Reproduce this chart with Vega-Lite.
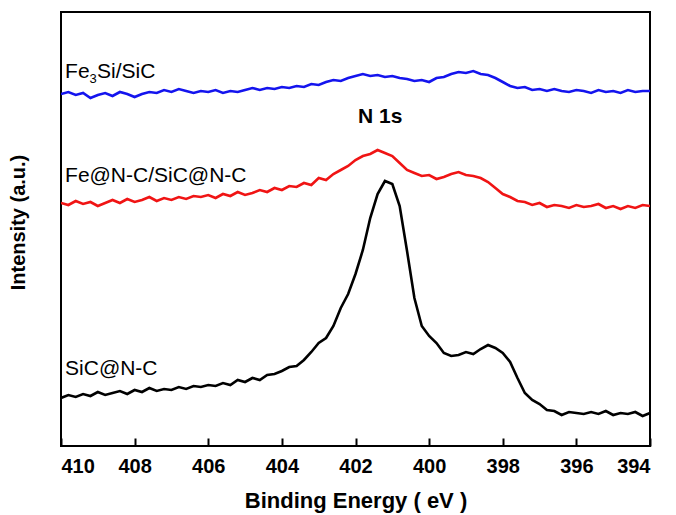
{
"$schema":"https://vega.github.io/schema/vega-lite/v6.json",
"width":589,"height":434,
"autosize":{"type":"none"},
"padding":{"left":61,"top":12,"right":26,"bottom":69},
"background":"white",
"config":{"view":{"stroke":"black","strokeWidth":2},"font":"Liberation Sans"},
"datasets":{
"black":[[410.0,48],[409.8,51],[409.6,49],[409.4,52],[409.2,50],[409.0,54],[408.8,51],[408.6,53],[408.4,55],[408.2,52],[408.0,56],[407.8,54],[407.6,58],[407.4,55],[407.2,57],[407.0,56],[406.8,59],[406.6,57],[406.4,60],[406.2,59],[406.0,61],[405.8,60],[405.6,63],[405.4,61],[405.2,66],[405.0,64],[404.8,68],[404.6,66],[404.4,71],[404.2,72],[404.0,75],[403.8,79],[403.6,80],[403.4,86],[403.2,94],[403.0,103],[402.8,108],[402.6,120],[402.4,138],[402.2,152],[402.0,172],[401.8,196],[401.6,228],[401.4,252],[401.2,265],[401.0,262],[400.8,240],[400.6,195],[400.4,148],[400.2,120],[400.0,110],[399.8,103],[399.6,93],[399.4,90],[399.2,91],[399.0,94],[398.8,92],[398.6,97],[398.4,101],[398.2,98],[398.0,93],[397.8,84],[397.6,68],[397.4,53],[397.2,46],[397.0,42],[396.8,36],[396.6,35],[396.4,31],[396.2,34],[396.0,33],[395.8,32],[395.6,34],[395.4,32],[395.2,35],[395.0,31],[394.8,33],[394.6,32],[394.4,34],[394.2,30],[394.0,33]],
"red":[[410.0,243],[409.8,241],[409.6,245],[409.4,242],[409.2,244],[409.0,240],[408.8,243],[408.6,246],[408.4,243],[408.2,247],[408.0,244],[407.8,246],[407.6,249],[407.4,245],[407.2,248],[407.0,246],[406.8,249],[406.6,247],[406.4,250],[406.2,249],[406.0,251],[405.8,248],[405.6,252],[405.4,250],[405.2,254],[405.0,251],[404.8,253],[404.6,256],[404.4,254],[404.2,258],[404.0,256],[403.8,260],[403.6,259],[403.4,263],[403.2,261],[403.0,268],[402.8,266],[402.6,272],[402.4,276],[402.2,280],[402.0,286],[401.8,290],[401.6,292],[401.4,296],[401.2,293],[401.0,290],[400.8,283],[400.6,276],[400.4,273],[400.2,270],[400.0,271],[399.8,267],[399.6,269],[399.4,272],[399.2,274],[399.0,271],[398.8,270],[398.6,268],[398.4,264],[398.2,258],[398.0,252],[397.8,249],[397.6,245],[397.4,244],[397.2,241],[397.0,243],[396.8,239],[396.6,241],[396.4,240],[396.2,238],[396.0,241],[395.8,239],[395.6,240],[395.4,242],[395.2,238],[395.0,240],[394.8,237],[394.6,240],[394.4,238],[394.2,241],[394.0,240]],
"blue":[[410.0,352],[409.8,354],[409.6,351],[409.4,353],[409.2,348],[409.0,351],[408.8,353],[408.6,350],[408.4,354],[408.2,352],[408.0,349],[407.8,352],[407.6,354],[407.4,353],[407.2,356],[407.0,354],[406.8,357],[406.6,355],[406.4,353],[406.2,355],[406.0,354],[405.8,356],[405.6,353],[405.4,355],[405.2,354],[405.0,356],[404.8,358],[404.6,356],[404.4,358],[404.2,357],[404.0,359],[403.8,358],[403.6,360],[403.4,359],[403.2,362],[403.0,361],[402.8,364],[402.6,366],[402.4,365],[402.2,368],[402.0,370],[401.8,372],[401.6,370],[401.4,371],[401.2,369],[401.0,370],[400.8,368],[400.6,367],[400.4,365],[400.2,366],[400.0,364],[399.8,368],[399.6,369],[399.4,372],[399.2,374],[399.0,373],[398.8,375],[398.6,372],[398.4,371],[398.2,368],[398.0,364],[397.8,360],[397.6,358],[397.4,359],[397.2,356],[397.0,357],[396.8,355],[396.6,357],[396.4,355],[396.2,354],[396.0,356],[395.8,355],[395.6,353],[395.4,356],[395.2,354],[395.0,355],[394.8,353],[394.6,356],[394.4,354],[394.2,355],[394.0,355]]
},
"data":{"values":[]},
"layer":[
{"data":{"name":"black"},"transform":[{"calculate":"datum[0]","as":"e"},{"calculate":"datum[1]","as":"i"}],
 "mark":{"type":"line","color":"black","strokeWidth":2.6,"clip":true},
 "encoding":{"x":{"field":"e","type":"quantitative","scale":{"domain":[394,410],"reverse":true,"nice":false},
   "axis":{"title":"Binding Energy ( eV )","values":[394,395,396,397,398,399,400,401,402,403,404,405,406,407,408,409,410],
     "labelExpr":"datum.value % 2 === 0 ? datum.label : ''","domain":false,"tickColor":"black","tickWidth":2,
     "tickSize":{"condition":{"test":"datum.value % 2 === 0","value":-8},"value":-5},
     "labelFont":"Liberation Sans","labelFontWeight":"bold","labelFontSize":20,"labelColor":"black","labelPadding":18,
     "titleFont":"Liberation Sans","titleFontWeight":"bold","titleFontSize":22,"titleColor":"black","titlePadding":14,"grid":false}},
  "y":{"field":"i","type":"quantitative","scale":{"domain":[0,434],"nice":false},
   "axis":{"title":"Intensity (a.u.)","labels":false,"ticks":false,"domain":false,"grid":false,"titleY":210,
     "titleFont":"Liberation Sans","titleFontWeight":"bold","titleFontSize":20,"titleColor":"black","titlePadding":33}}}},
{"data":{"name":"red"},"transform":[{"calculate":"datum[0]","as":"e"},{"calculate":"datum[1]","as":"i"}],
 "mark":{"type":"line","color":"#f01414","strokeWidth":2.6,"clip":true},
 "encoding":{"x":{"field":"e","type":"quantitative"},"y":{"field":"i","type":"quantitative"}}},
{"data":{"name":"blue"},"transform":[{"calculate":"datum[0]","as":"e"},{"calculate":"datum[1]","as":"i"}],
 "mark":{"type":"line","color":"#1414ee","strokeWidth":2.6,"clip":true},
 "encoding":{"x":{"field":"e","type":"quantitative"},"y":{"field":"i","type":"quantitative"}}},
{"data":{"values":[{"e":409.89,"i":264,"t":"Fe@N-C/SiC@N-C"},{"e":409.89,"i":71,"t":"SiC@N-C"}]},
 "mark":{"type":"text","align":"left","baseline":"alphabetic","font":"Liberation Sans","fontSize":21,"color":"black"},
 "encoding":{"x":{"field":"e","type":"quantitative"},"y":{"field":"i","type":"quantitative"},"text":{"field":"t"}}},
{"data":{"values":[{"e":409.89,"i":368,"a":"Fe","b":"3","c":"Si/SiC"}]},
 "layer":[
  {"mark":{"type":"text","align":"left","baseline":"alphabetic","font":"Liberation Sans","fontSize":21,"color":"black"},
   "encoding":{"x":{"field":"e","type":"quantitative"},"y":{"field":"i","type":"quantitative"},"text":{"field":"a"}}},
  {"mark":{"type":"text","align":"left","baseline":"alphabetic","font":"Liberation Sans","fontSize":13,"color":"black","dx":24.5,"dy":5},
   "encoding":{"x":{"field":"e","type":"quantitative"},"y":{"field":"i","type":"quantitative"},"text":{"field":"b"}}},
  {"mark":{"type":"text","align":"left","baseline":"alphabetic","font":"Liberation Sans","fontSize":21,"color":"black","dx":32},
   "encoding":{"x":{"field":"e","type":"quantitative"},"y":{"field":"i","type":"quantitative"},"text":{"field":"c"}}}
 ]},
{"data":{"values":[{"e":401.33,"i":323,"t":"N 1s"}]},
 "mark":{"type":"text","align":"center","baseline":"alphabetic","font":"Liberation Sans","fontSize":21,"fontWeight":"bold","color":"black"},
 "encoding":{"x":{"field":"e","type":"quantitative"},"y":{"field":"i","type":"quantitative"},"text":{"field":"t"}}}
]
}
